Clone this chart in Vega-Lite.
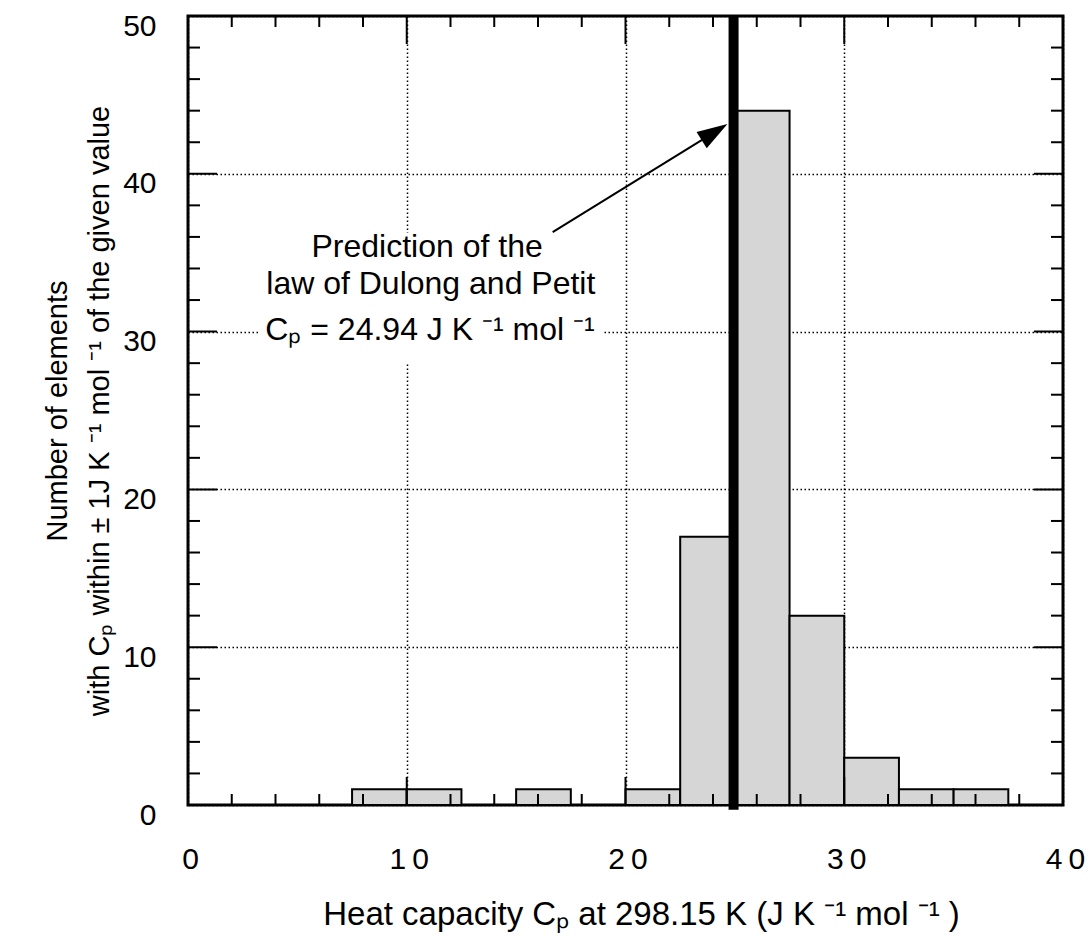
{
  "$schema": "https://vega.github.io/schema/vega-lite/v6.json",
  "width": 875,
  "height": 789,
  "autosize": "none",
  "padding": {"left": 188, "top": 16, "right": 28, "bottom": 139},
  "background": "white",
  "config": {
    "view": {"stroke": "black", "strokeWidth": 3},
    "font": "Liberation Sans",
    "axis": {
      "grid": true,
      "gridColor": "black",
      "gridDash": [1.5, 2.5],
      "gridWidth": 1.5,
      "gridOpacity": 1,
      "ticks": false,
      "domain": false,
      "labelFont": "Liberation Sans",
      "labelFontSize": 30,
      "labelColor": "black",
      "labelFlush": false,
      "labelOverlap": false,
      "labelBound": false,
      "titleFont": "Liberation Sans",
      "titleFontSize": 28,
      "titleFontWeight": "normal",
      "titleColor": "black"
    }
  },
  "datasets": {
    "bins": [
      {"start": 7.5, "end": 10, "count": 1},
      {"start": 10, "end": 12.5, "count": 1},
      {"start": 15, "end": 17.5, "count": 1},
      {"start": 20, "end": 22.5, "count": 1},
      {"start": 22.5, "end": 25, "count": 17},
      {"start": 25, "end": 27.5, "count": 44},
      {"start": 27.5, "end": 30, "count": 12},
      {"start": 30, "end": 32.5, "count": 3},
      {"start": 32.5, "end": 35, "count": 1},
      {"start": 35, "end": 37.5, "count": 1}
    ],
    "xminor": [{"v": 2}, {"v": 4}, {"v": 6}, {"v": 8}, {"v": 12}, {"v": 14}, {"v": 16}, {"v": 18}, {"v": 22}, {"v": 24}, {"v": 26}, {"v": 28}, {"v": 32}, {"v": 34}, {"v": 36}, {"v": 38}],
    "xmajor": [{"v": 10}, {"v": 20}, {"v": 30}],
    "yminor": [{"v": 2}, {"v": 4}, {"v": 6}, {"v": 8}, {"v": 12}, {"v": 14}, {"v": 16}, {"v": 18}, {"v": 22}, {"v": 24}, {"v": 26}, {"v": 28}, {"v": 32}, {"v": 34}, {"v": 36}, {"v": 38}, {"v": 42}, {"v": 44}, {"v": 46}, {"v": 48}],
    "ymajor": [{"v": 10}, {"v": 20}, {"v": 30}, {"v": 40}],
    "one": [{"n": 1}]
  },
  "layer": [
    {
      "data": {"name": "bins"},
      "mark": {"type": "rect", "fill": "#d6d6d6", "stroke": "black", "strokeWidth": 2},
      "encoding": {
        "x": {
          "field": "start", "type": "quantitative",
          "scale": {"domain": [0, 40], "nice": false, "zero": false},
          "axis": {
            "values": [0, 10, 20, 30, 40],
            "labelPadding": 63,
            "labelBaseline": "alphabetic",
            "labelOffset": 2,
            "labelExpr": "length(datum.label) > 1 ? substring(datum.label, 0, 1) + '\u2009' + substring(datum.label, 1) : datum.label",
            "title": "Heat capacity Cₚ at 298.15 K (J K ⁻¹ mol ⁻¹ )",
            "titleFontSize": 33,
            "titleBaseline": "alphabetic",
            "titleAlign": "center",
            "titleX": 453,
            "titleY": 119
          }
        },
        "x2": {"field": "end"},
        "y": {
          "field": "count", "type": "quantitative",
          "scale": {"domain": [0, 50], "nice": false},
          "axis": {
            "values": [0, 10, 20, 30, 40, 50],
            "labelPadding": 32,
            "labelAlign": "right",
            "labelBaseline": "alphabetic",
            "labelOffset": 19,
            "title": ["Number of elements", "with Cₚ within ± 1J K ⁻¹ mol ⁻¹ of the given value"],
            "titleFontSize": 29,
            "titleLineHeight": 42,
            "titleBaseline": "bottom",
            "titleX": -116
          }
        },
        "y2": {"datum": 0}
      }
    },
    {
      "data": {"name": "one"},
      "mark": {"type": "rect", "fill": "white"},
      "encoding": {
        "x": {"datum": 3.2, "type": "quantitative"},
        "x2": {"datum": 19.0},
        "y": {"datum": 28.07, "type": "quantitative"},
        "y2": {"datum": 36.25}
      }
    },
    {
      "data": {"name": "one"},
      "mark": {"type": "rule", "color": "black", "strokeWidth": 10},
      "encoding": {
        "x": {"datum": 24.94, "type": "quantitative"},
        "y": {"datum": -0.3, "type": "quantitative"},
        "y2": {"datum": 50}
      }
    },
    {
      "data": {"name": "one"},
      "mark": {"type": "rule", "color": "black", "strokeWidth": 2},
      "encoding": {
        "x": {"datum": 16.67, "type": "quantitative"},
        "y": {"datum": 36.3, "type": "quantitative"},
        "x2": {"datum": 23.5},
        "y2": {"datum": 42.15}
      }
    },
    {
      "data": {"name": "one"},
      "mark": {"type": "point", "shape": "M0,0L-0.6,1.9L0.6,1.9Z", "size": 1024, "filled": true, "color": "black", "opacity": 1, "angle": 58},
      "encoding": {
        "x": {"datum": 24.66, "type": "quantitative"},
        "y": {"datum": 43.16, "type": "quantitative"}
      }
    },
    {
      "data": {"name": "one"},
      "mark": {"type": "text", "font": "Liberation Sans", "fontSize": 32, "align": "center", "baseline": "alphabetic", "color": "black", "text": "Prediction of the"},
      "encoding": {
        "x": {"datum": 10.93, "type": "quantitative"},
        "y": {"datum": 34.73, "type": "quantitative"}
      }
    },
    {
      "data": {"name": "one"},
      "mark": {"type": "text", "font": "Liberation Sans", "fontSize": 32, "align": "center", "baseline": "alphabetic", "color": "black", "text": "law of Dulong and Petit"},
      "encoding": {
        "x": {"datum": 11.1, "type": "quantitative"},
        "y": {"datum": 32.38, "type": "quantitative"}
      }
    },
    {
      "data": {"name": "one"},
      "mark": {"type": "text", "font": "Liberation Sans", "fontSize": 32, "align": "center", "baseline": "alphabetic", "color": "black", "text": "Cₚ = 24.94 J K ⁻¹ mol ⁻¹"},
      "encoding": {
        "x": {"datum": 11.06, "type": "quantitative"},
        "y": {"datum": 29.47, "type": "quantitative"}
      }
    },
    {
      "data": {"name": "xminor"},
      "mark": {"type": "tick", "orient": "vertical", "clip": true, "size": 22, "thickness": 2, "color": "black", "opacity": 1},
      "encoding": {
        "x": {"field": "v", "type": "quantitative"},
        "y": {"datum": 0, "type": "quantitative"}
      }
    },
    {
      "data": {"name": "xminor"},
      "mark": {"type": "tick", "orient": "vertical", "clip": true, "size": 22, "thickness": 2, "color": "black", "opacity": 1},
      "encoding": {
        "x": {"field": "v", "type": "quantitative"},
        "y": {"datum": 50, "type": "quantitative"}
      }
    },
    {
      "data": {"name": "xmajor"},
      "mark": {"type": "tick", "orient": "vertical", "clip": true, "size": 56, "thickness": 2, "color": "black", "opacity": 1},
      "encoding": {
        "x": {"field": "v", "type": "quantitative"},
        "y": {"datum": 0, "type": "quantitative"}
      }
    },
    {
      "data": {"name": "xmajor"},
      "mark": {"type": "tick", "orient": "vertical", "clip": true, "size": 56, "thickness": 2, "color": "black", "opacity": 1},
      "encoding": {
        "x": {"field": "v", "type": "quantitative"},
        "y": {"datum": 50, "type": "quantitative"}
      }
    },
    {
      "data": {"name": "yminor"},
      "mark": {"type": "tick", "orient": "horizontal", "clip": true, "size": 24, "thickness": 2, "color": "black", "opacity": 1},
      "encoding": {
        "y": {"field": "v", "type": "quantitative"},
        "x": {"datum": 0, "type": "quantitative"}
      }
    },
    {
      "data": {"name": "yminor"},
      "mark": {"type": "tick", "orient": "horizontal", "clip": true, "size": 24, "thickness": 2, "color": "black", "opacity": 1},
      "encoding": {
        "y": {"field": "v", "type": "quantitative"},
        "x": {"datum": 40, "type": "quantitative"}
      }
    },
    {
      "data": {"name": "ymajor"},
      "mark": {"type": "tick", "orient": "horizontal", "clip": true, "size": 58, "thickness": 2, "color": "black", "opacity": 1},
      "encoding": {
        "y": {"field": "v", "type": "quantitative"},
        "x": {"datum": 0, "type": "quantitative"}
      }
    },
    {
      "data": {"name": "ymajor"},
      "mark": {"type": "tick", "orient": "horizontal", "clip": true, "size": 58, "thickness": 2, "color": "black", "opacity": 1},
      "encoding": {
        "y": {"field": "v", "type": "quantitative"},
        "x": {"datum": 40, "type": "quantitative"}
      }
    }
  ]
}
